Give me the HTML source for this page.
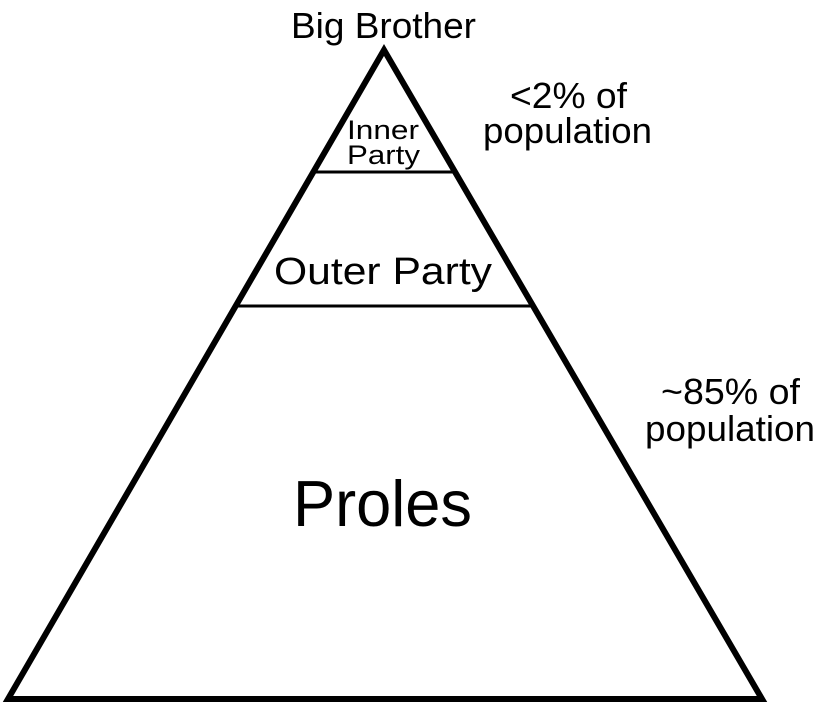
<!DOCTYPE html>
<html><head><style>
html,body{margin:0;padding:0;background:#fff;}
svg{display:block;}
text{font-family:"Liberation Sans",Arial,sans-serif;fill:#000;}
</style></head><body>
<svg width="829" height="716" viewBox="0 0 829 716" xmlns="http://www.w3.org/2000/svg">
<polygon points="384,50 8,699 762,699" fill="#fff" stroke="#000" stroke-width="6" stroke-linejoin="miter"/>
<line x1="313" y1="172" x2="456" y2="172" stroke="#000" stroke-width="3"/>
<line x1="236" y1="306" x2="533" y2="306" stroke="#000" stroke-width="3"/>
<text x="291" y="38" font-size="36" textLength="185" lengthAdjust="spacingAndGlyphs">Big Brother</text>
<text x="347" y="139" font-size="27" textLength="72" lengthAdjust="spacingAndGlyphs">Inner</text>
<text x="347" y="164" font-size="27" textLength="73" lengthAdjust="spacingAndGlyphs">Party</text>
<text x="510" y="108" font-size="36" textLength="117" lengthAdjust="spacingAndGlyphs">&lt;2% of</text>
<text x="483" y="143" font-size="36" textLength="169" lengthAdjust="spacingAndGlyphs">population</text>
<text x="274" y="284" font-size="38" textLength="218" lengthAdjust="spacingAndGlyphs">Outer Party</text>
<text x="293" y="526" font-size="65" textLength="179" lengthAdjust="spacingAndGlyphs">Proles</text>
<text x="661" y="404" font-size="36" textLength="139" lengthAdjust="spacingAndGlyphs">~85% of</text>
<text x="645" y="441" font-size="36" textLength="170" lengthAdjust="spacingAndGlyphs">population</text>
</svg>
</body></html>
